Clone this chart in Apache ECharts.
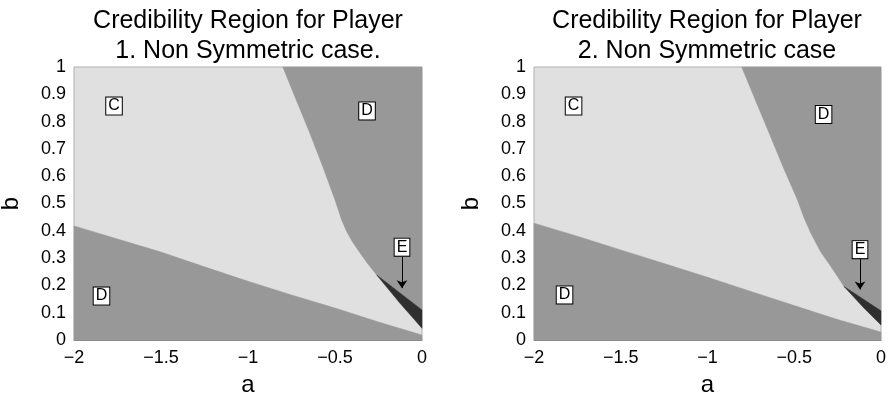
<!DOCTYPE html>
<html>
<head>
<meta charset="utf-8">
<script src="https://cdn.jsdelivr.net/npm/echarts@6/dist/echarts.min.js"></script>
<style>
html,body{margin:0;padding:0;background:#fff;}
#chart{width:888px;height:398px;}
</style>
</head>
<body>
<div id="chart"></div>
<script>
// ---- Data ----
var titles = ['Credibility Region for Player\n1. Non Symmetric case.', 'Credibility Region for Player\n2. Non Symmetric case'];
var xTicks = [-2, -1.5, -1, -0.5, 0];
var yTicks = [0, 0.1, 0.2, 0.3, 0.4, 0.5, 0.6, 0.7, 0.8, 0.9, 1];

// Panel 1 region boundaries [a, b]
var lowerD1 = [[-2, 0.418], [-1.75, 0.37], [-1.5, 0.322], [-1.25, 0.268], [-1, 0.215], [-0.75, 0.165], [-0.5, 0.117], [-0.25, 0.066], [0, 0.018], [0, 0], [-2, 0]];
var upperD1 = [[-0.8, 1], [-0.72, 0.875], [-0.645, 0.758], [-0.57, 0.635], [-0.5, 0.513], [-0.462, 0.44], [-0.433, 0.397], [-0.4, 0.36], [-0.368, 0.33], [-0.315, 0.282], [-0.26, 0.238], [0, 0.11], [0, 1]];
var regionE1 = [[-0.26, 0.238], [0, 0.11], [0, 0.043], [-0.13, 0.137]];
var labelsP1 = [['C', -1.77, 0.857], ['D', -0.316, 0.839], ['D', -1.842, 0.161], ['E', -0.115, 0.34]];
var arrowP1 = [[-0.115, 0.305], [-0.115, 0.19]];

// Panel 2 region boundaries [a, b]
var lowerD2 = [[-2, 0.428], [-1.75, 0.38], [-1.5, 0.33], [-1.25, 0.28], [-1, 0.23], [-0.75, 0.178], [-0.5, 0.126], [-0.25, 0.075], [0, 0.029], [0, 0], [-2, 0]];
var upperD2 = [[-0.803, 1], [-0.725, 0.88], [-0.645, 0.758], [-0.565, 0.635], [-0.482, 0.514], [-0.445, 0.45], [-0.405, 0.392], [-0.35, 0.325], [-0.29, 0.27], [-0.25, 0.232], [-0.213, 0.196], [0, 0.107], [0, 1]];
var regionE2 = [[-0.213, 0.196], [0, 0.107], [0, 0.055], [-0.1, 0.118]];
var labelsP2 = [['C', -1.772, 0.857], ['D', -0.331, 0.826], ['D', -1.824, 0.165], ['E', -0.121, 0.331]];
var arrowP2 = [[-0.121, 0.298], [-0.121, 0.185]];

// ---- Styling ----
var FONT = 'Liberation Sans, Arial, Helvetica, sans-serif';
var LIGHT = '#e0e0e0', DARK = '#989898', BLACK = '#2f2f2f';

function polySeries(poly, color, gi) {
  return {
    type: 'custom', xAxisIndex: gi, yAxisIndex: gi, silent: true, z: 2,
    data: [poly[0]],
    renderItem: function (params, api) {
      var pts = poly.map(function (p) { return api.coord(p); });
      return { type: 'polygon', shape: { points: pts }, style: { fill: color, stroke: color, lineWidth: 0.5 } };
    }
  };
}
function labelSeries(labels, gi) {
  return {
    type: 'scatter', xAxisIndex: gi, yAxisIndex: gi, silent: true, z: 10,
    symbolSize: 0, itemStyle: { color: '#fff', opacity: 1 },
    data: labels.map(function (l) { return { value: [l[1], l[2]], name: l[0] }; }),
    label: {
      show: true, position: 'inside', formatter: '{b}', color: '#000',
      fontFamily: FONT, fontSize: 16, lineHeight: 16,
      backgroundColor: '#fff', borderColor: '#000', borderWidth: 1, padding: [1, 2, 0, 2]
    }
  };
}
function arrowSeries(arrow, gi) {
  return {
    type: 'lines', coordinateSystem: 'cartesian2d', xAxisIndex: gi, yAxisIndex: gi, silent: true, z: 9,
    symbol: ['none', 'arrow'], symbolSize: [0, 8],
    lineStyle: { color: '#000', width: 1, opacity: 1 },
    data: [{ coords: arrow }]
  };
}

var grids = [
  { left: 74, right: 466, top: 67, bottom: 58, outerBoundsMode: 'none', containLabel: false, show: true, backgroundColor: LIGHT, borderColor: '#b0b0b0', borderWidth: 1 },
  { left: 534, right: 7, top: 67, bottom: 58, outerBoundsMode: 'none', containLabel: false, show: true, backgroundColor: LIGHT, borderColor: '#b0b0b0', borderWidth: 1 }
];

function xAx(gi) {
  return {
    gridIndex: gi, type: 'value', min: xTicks[0], max: xTicks[xTicks.length - 1], interval: 0.5,
    name: 'a', nameLocation: 'middle', nameGap: 33,
    nameTextStyle: { fontFamily: FONT, fontSize: 24, color: '#000' },
    axisLine: { show: true, lineStyle: { color: '#888', width: 1 } }, axisTick: { show: false }, splitLine: { show: false },
    axisLabel: { margin: 9, fontFamily: FONT, fontSize: 18, color: '#000',
      formatter: function (v) { return String(v).replace('-', '\u2212'); } }
  };
}
function yAx(gi) {
  return {
    gridIndex: gi, type: 'value', min: yTicks[0], max: yTicks[yTicks.length - 1], interval: 0.1,
    name: 'b', nameLocation: 'middle', nameGap: 51,
    nameTextStyle: { fontFamily: FONT, fontSize: 24, color: '#000' },
    axisLine: { show: false }, axisTick: { show: false }, splitLine: { show: false },
    axisLabel: { margin: 8, fontFamily: FONT, fontSize: 18, color: '#000',
      formatter: function (v) { return String(Math.round(v * 10) / 10); } }
  };
}

var option = {
  animation: false,
  backgroundColor: '#fff',
  title: [
    { text: titles[0], left: 243, top: 1, textAlign: 'center',
      textStyle: { fontFamily: FONT, fontSize: 25, fontWeight: 'normal', color: '#000', lineHeight: 30 } },
    { text: titles[1], left: 702, top: 1, textAlign: 'center',
      textStyle: { fontFamily: FONT, fontSize: 25, fontWeight: 'normal', color: '#000', lineHeight: 30 } }
  ],
  grid: grids,
  xAxis: [xAx(0), xAx(1)],
  yAxis: [yAx(0), yAx(1)],
  series: [
    polySeries(lowerD1, DARK, 0), polySeries(upperD1, DARK, 0), polySeries(regionE1, BLACK, 0),
    labelSeries(labelsP1, 0), arrowSeries(arrowP1, 0),
    polySeries(lowerD2, DARK, 1), polySeries(upperD2, DARK, 1), polySeries(regionE2, BLACK, 1),
    labelSeries(labelsP2, 1), arrowSeries(arrowP2, 1)
  ]
};
var chart = echarts.init(document.getElementById('chart'), null, { renderer: 'canvas' });
chart.setOption(option);
</script>
</body>
</html>
